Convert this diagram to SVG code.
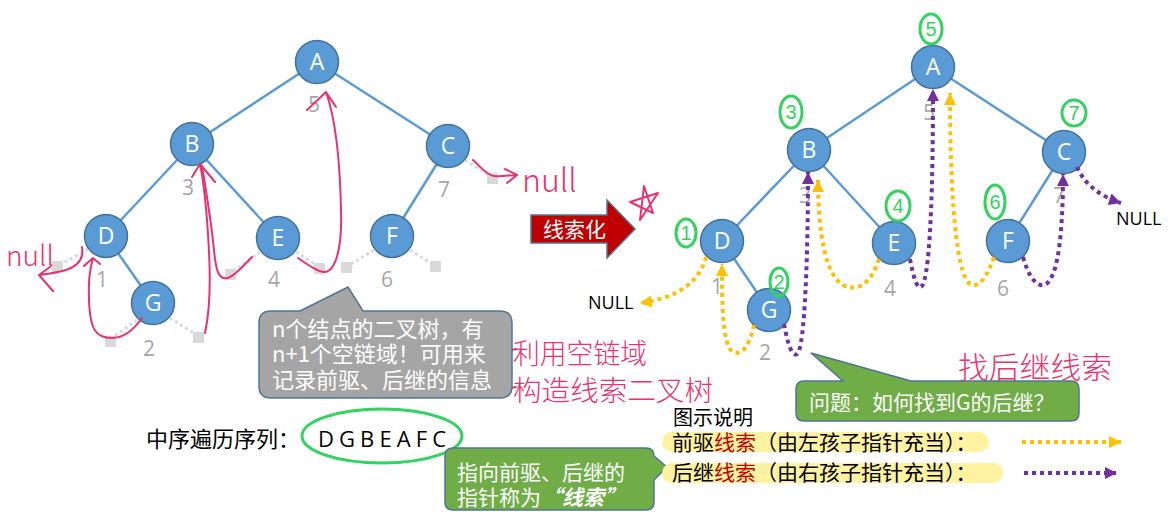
<svg xmlns="http://www.w3.org/2000/svg" width="1171" height="515" viewBox="0 0 1171 515">
<style>
.edge{stroke:#5b9bd5;stroke-width:2.5;fill:none}
.nc{fill:#5b9bd5;stroke:#41719c;stroke-width:1.5}
.nt{fill:#fff;font-family:"Open Sans","Liberation Sans",sans-serif;font-size:23px;text-anchor:middle}
.num{fill:#a6a6a6;font-family:"Open Sans","Liberation Sans",sans-serif;font-size:21px;text-anchor:middle}
.nul{stroke:#d9d9d9;stroke-width:3;stroke-dasharray:3 3;fill:none}
.sq{fill:#d9d9d9}
.pink{stroke:#e8336e;stroke-width:2;fill:none;stroke-linecap:round;stroke-linejoin:round}
.pt{fill:#e8336e;font-family:"Noto Sans CJK SC",sans-serif;font-weight:300}
.pre{stroke:#ffc000;stroke-width:4;stroke-dasharray:4 4;fill:none}
.suc{stroke:#7030a0;stroke-width:4;stroke-dasharray:4 4;fill:none}
.gc{stroke:#33d35f;stroke-width:3;fill:none}
.gt{fill:#33d35f;font-family:"Liberation Sans",sans-serif;font-size:20px;text-anchor:middle}
.cjk{font-family:"Noto Sans CJK SC",sans-serif}
.wt{fill:#fff}
</style>
<defs>
<marker id="ao" markerUnits="userSpaceOnUse" markerWidth="14" markerHeight="14" refX="12" refY="6" orient="auto"><path d="M0,0 L12,6 L0,12 Z" fill="#ffc000"/></marker>
<marker id="ap" markerUnits="userSpaceOnUse" markerWidth="14" markerHeight="14" refX="12" refY="6" orient="auto"><path d="M0,0 L12,6 L0,12 Z" fill="#7030a0"/></marker>
</defs>

<!-- LEFT TREE -->
<g id="left-edges">
<line class="edge" x1="317" y1="62" x2="192" y2="144"/>
<line class="edge" x1="317" y1="62" x2="448" y2="146"/>
<line class="edge" x1="192" y1="144" x2="106" y2="236"/>
<line class="edge" x1="192" y1="144" x2="278" y2="238"/>
<line class="edge" x1="448" y1="146" x2="392" y2="236"/>
<line class="edge" x1="106" y1="236" x2="153" y2="303"/>
</g>
<g id="left-null-links">
<line class="nul" x1="88" y1="249" x2="58" y2="266"/><rect class="sq" x="52" y="261" width="11" height="11"/>
<line class="nul" x1="137" y1="320" x2="112" y2="338"/><rect class="sq" x="105" y="336" width="11" height="11"/>
<line class="nul" x1="170" y1="318" x2="197" y2="335"/><rect class="sq" x="193" y="332" width="11" height="11"/>
<line class="nul" x1="260" y1="252" x2="232" y2="272"/><rect class="sq" x="225" y="269" width="11" height="11"/>
<line class="nul" x1="296" y1="252" x2="318" y2="266"/><rect class="sq" x="314" y="263" width="11" height="11"/>
<line class="nul" x1="374" y1="250" x2="348" y2="266"/><rect class="sq" x="341" y="262" width="11" height="11"/>
<line class="nul" x1="410" y1="250" x2="434" y2="265"/><rect class="sq" x="430" y="261" width="11" height="11"/>
<line class="nul" x1="465" y1="160" x2="490" y2="176"/><rect class="sq" x="487" y="173" width="11" height="11"/>
</g>
<g id="L-A"><circle class="nc" cx="317" cy="62" r="21.5"/><text class="nt" x="317" y="70">A</text><text class="num" x="314" y="112">5</text></g>
<g id="L-B"><circle class="nc" cx="192" cy="144" r="21.5"/><text class="nt" x="192" y="152">B</text><text class="num" x="188" y="195">3</text></g>
<g id="L-C"><circle class="nc" cx="448" cy="146" r="21.5"/><text class="nt" x="448" y="154">C</text><text class="num" x="444" y="197">7</text></g>
<g id="L-D"><circle class="nc" cx="106" cy="236" r="21.5"/><text class="nt" x="106" y="244">D</text><text class="num" x="102" y="287">1</text></g>
<g id="L-E"><circle class="nc" cx="278" cy="238" r="21.5"/><text class="nt" x="278" y="246">E</text><text class="num" x="274" y="287">4</text></g>
<g id="L-F"><circle class="nc" cx="392" cy="236" r="21.5"/><text class="nt" x="392" y="244">F</text><text class="num" x="387" y="287">6</text></g>
<g id="L-G"><circle class="nc" cx="153" cy="303" r="21.5"/><text class="nt" x="153" y="311">G</text><text class="num" x="149" y="356">2</text></g>

<!-- pink handwritten annotations -->
<g id="pink-annotations">
<path class="pink" d="M82,247 C84,258 78,266 66,270 C56,273 46,274 39,275 M50,267 L39,275 L53,291"/>
<text class="pt" x="6" y="266" font-size="28">null</text>
<path class="pink" d="M142,318 C135,328 125,338 112,338 C96,338 90,330 89,300 C88,280 90,268 93,258 M84,266 L93,258 L100,264"/>
<path class="pink" d="M205,333 C212,300 210,260 207,220 C205,195 203,178 200,164 M192,177 L200,164 L215,182"/>
<path class="pink" d="M252,257 C244,265 236,275 228,278 C219,280 216,272 214,250 C211,220 206,190 202,166"/>
<path class="pink" d="M298,258 C308,265 318,272 325,272 C338,270 342,240 341,210 C340,160 336,120 326,92 M307,110 L326,92 L336,107"/>
<path class="pink" d="M473,160 C480,166 486,175 494,176 C502,177 510,175 517,175 M505,169 L517,175 L507,183"/>
<text class="pt" x="522" y="192" font-size="32">null</text>
<path class="pink" d="M644,186 L640,220 L658,193 L630,202 L653,213 Z"/>
<path class="pink" d="M502,352 L516,349"/>
<path class="pink" d="M502,390 L516,387"/>
<text class="pt" x="513" y="364" font-size="28" textLength="134" lengthAdjust="spacingAndGlyphs">利用空链域</text>
<text class="pt" x="513" y="401" font-size="28" textLength="200" lengthAdjust="spacingAndGlyphs">构造线索二叉树</text>
<text class="pt" x="958" y="378" font-size="30" textLength="154" lengthAdjust="spacingAndGlyphs">找后继线索</text>
</g>

<!-- gray callout -->
<g id="callout-gray">
<path d="M271,311 L300,311 L348,287 L363,311 L500,311 Q512,311 512,323 L512,386 Q512,398 500,398 L271,398 Q259,398 259,386 L259,323 Q259,311 271,311 Z" fill="#a5a5a5" stroke="#4f7596" stroke-width="1.5"/>
<text class="cjk wt" font-size="22" x="272" y="337">n个结点的二叉树，有</text>
<text class="cjk wt" font-size="22" x="272" y="362">n+1个空链域！可用来</text>
<text class="cjk wt" font-size="22" x="272" y="388">记录前驱、后继的信息</text>
</g>

<!-- threading arrow -->
<g id="thread-arrow">
<path d="M531,215 L607,215 L607,200 L635,229 L607,258 L607,243 L531,243 Z" fill="#c00000" stroke="#4f7596" stroke-width="1.5"/>
<text class="cjk wt" font-size="21" x="543" y="237">线索化</text>
</g>

<!-- inorder sequence -->
<g id="inorder">
<text class="cjk" font-size="22" x="146" y="447" fill="#000">中序遍历序列：</text>
<text font-family="Open Sans,Liberation Sans,sans-serif" font-size="22" x="318" y="447" fill="#000" textLength="128" lengthAdjust="spacing">D G B E A F C</text>
<ellipse cx="382" cy="436" rx="80" ry="27" fill="none" stroke="#33d35f" stroke-width="3"/>
</g>

<!-- green callout: clue -->
<g id="callout-thread">
<path d="M453,448 L646,448 Q654,448 654,456 L667,467 L654,480 L654,502 Q654,510 646,510 L453,510 Q445,510 445,502 L445,456 Q445,448 453,448 Z" fill="#70ad47" stroke="#4f7596" stroke-width="1.5"/>
<text class="cjk wt" font-size="21" x="457" y="480">指向前驱、后继的</text>
<text class="cjk wt" font-size="21" x="457" y="505">指针称为<tspan font-weight="bold" font-style="italic">“线索”</tspan></text>
</g>

<!-- RIGHT TREE -->
<g id="right-edges">
<line class="edge" x1="933" y1="67" x2="809" y2="150"/>
<line class="edge" x1="933" y1="67" x2="1064" y2="152"/>
<line class="edge" x1="809" y1="150" x2="722" y2="241"/>
<line class="edge" x1="809" y1="150" x2="894" y2="243"/>
<line class="edge" x1="1064" y1="152" x2="1008" y2="241"/>
<line class="edge" x1="722" y1="241" x2="769" y2="310"/>
</g>
<g id="R-A"><circle class="nc" cx="933" cy="67" r="21.5"/><text class="nt" x="933" y="75">A</text><text class="num" x="929" y="120">5</text></g>
<g id="R-B"><circle class="nc" cx="809" cy="150" r="21.5"/><text class="nt" x="809" y="158">B</text><text class="num" x="805" y="203">3</text></g>
<g id="R-C"><circle class="nc" cx="1064" cy="152" r="21.5"/><text class="nt" x="1064" y="160">C</text><text class="num" x="1059" y="203">7</text></g>
<g id="R-D"><circle class="nc" cx="722" cy="241" r="21.5"/><text class="nt" x="722" y="249">D</text><text class="num" x="717" y="294">1</text></g>
<g id="R-E"><circle class="nc" cx="894" cy="243" r="21.5"/><text class="nt" x="894" y="251">E</text><text class="num" x="890" y="296">4</text></g>
<g id="R-F"><circle class="nc" cx="1008" cy="241" r="21.5"/><text class="nt" x="1008" y="249">F</text><text class="num" x="1003" y="296">6</text></g>
<g id="R-G"><circle class="nc" cx="769" cy="310" r="21.5"/><text class="nt" x="769" y="318">G</text><text class="num" x="765" y="360">2</text></g>

<g id="threads">
<path class="pre" d="M706,257 C700,280 680,298 640,303" marker-end="url(#ao)"/>
<path class="pre" d="M754,325 C750,345 742,356 733,352 C722,346 722,300 722,264" marker-end="url(#ao)"/>
<path class="suc" d="M784,324 C788,345 792,357 797,354 C805,350 808,250 808,172" marker-end="url(#ap)"/>
<path class="pre" d="M879,259 C872,280 862,290 848,287 C825,282 818,230 818,180" marker-end="url(#ao)"/>
<path class="suc" d="M910,259 C913,275 917,290 921,287 C932,280 933,150 933,89" marker-end="url(#ap)"/>
<path class="pre" d="M994,257 C988,275 980,287 972,285 C952,280 950,150 950,93" marker-end="url(#ao)"/>
<path class="suc" d="M1023,257 C1028,275 1036,287 1044,285 C1060,280 1063,220 1063,174" marker-end="url(#ap)"/>
<path class="suc" d="M1077,167 C1085,185 1100,196 1121,203" marker-end="url(#ap)"/>
<text font-family="Open Sans,Liberation Sans,sans-serif" font-size="18" x="588" y="309" fill="#000">NULL</text>
<text font-family="Open Sans,Liberation Sans,sans-serif" font-size="18" x="1116" y="225" fill="#000">NULL</text>
</g>

<g id="order-marks">
<ellipse class="gc" cx="686" cy="233" rx="10" ry="14"/><text class="gt" x="686" y="240">1</text>
<ellipse class="gc" cx="779" cy="282" rx="9" ry="14"/><text class="gt" x="779" y="289">2</text>
<ellipse class="gc" cx="791" cy="112" rx="11" ry="16"/><text class="gt" x="791" y="119">3</text>
<ellipse class="gc" cx="898" cy="206" rx="12" ry="15"/><text class="gt" x="898" y="213">4</text>
<ellipse class="gc" cx="931" cy="29" rx="11" ry="15"/><text class="gt" x="931" y="36">5</text>
<ellipse class="gc" cx="995" cy="202" rx="10" ry="17"/><text class="gt" x="995" y="209">6</text>
<ellipse class="gc" cx="1074" cy="113" rx="12" ry="13"/><text class="gt" x="1074" y="120">7</text>
</g>

<!-- question callout -->
<g id="callout-question">
<path d="M804,381 L843,381 L811,353 L911,381 L1071,381 Q1079,381 1079,389 L1079,413 Q1079,421 1071,421 L804,421 Q796,421 796,413 L796,389 Q796,381 804,381 Z" fill="#70ad47" stroke="#4f7596" stroke-width="1.5"/>
<text class="cjk wt" font-size="21" x="809" y="410">问题：如何找到G的后继？</text>
</g>

<!-- legend -->
<g id="legend">
<text class="cjk" font-size="20" x="673" y="425" fill="#000">图示说明</text>
<rect x="662" y="432" width="327" height="20" rx="10" fill="#fff2a0"/>
<rect x="662" y="463" width="341" height="20" rx="10" fill="#fff2a0"/>
<text class="cjk" font-size="21" x="672" y="450" fill="#000">前驱<tspan fill="#c00000">线索</tspan>（由左孩子指针充当）：</text>
<text class="cjk" font-size="21" x="672" y="480" fill="#000">后继<tspan fill="#c00000">线索</tspan>（由右孩子指针充当）：</text>
<path class="pre" d="M1022,442 L1121,442" marker-end="url(#ao)"/>
<path class="suc" d="M1024,473 L1117,473" marker-end="url(#ap)"/>
</g>
</svg>
